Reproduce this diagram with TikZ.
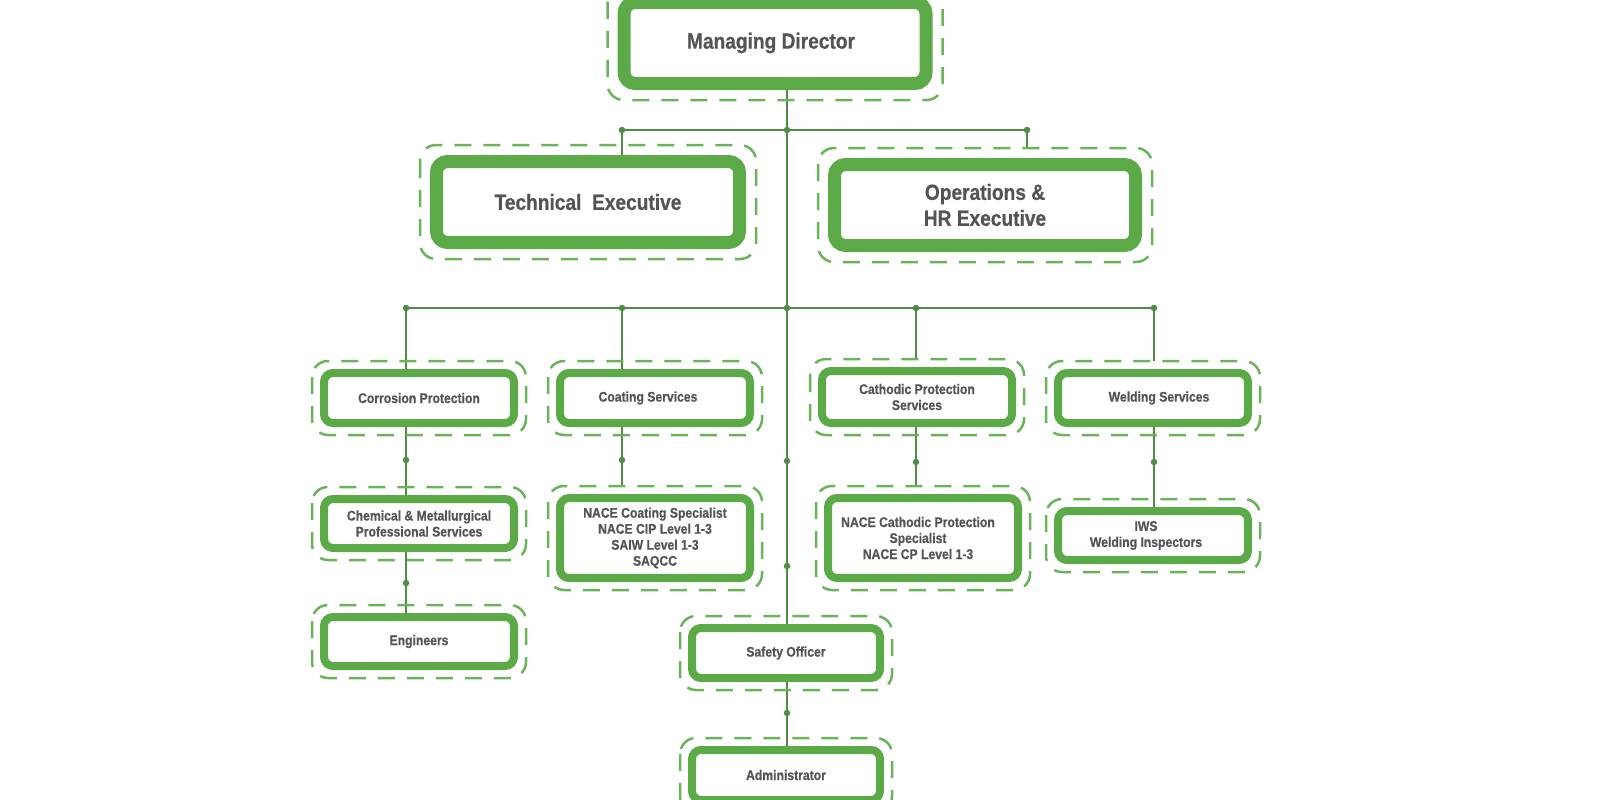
\documentclass[tikz,border=0pt]{standalone}
\usepackage{fontspec}
\setmainfont{Liberation Sans}[FakeStretch=0.87, BoldFeatures={FakeBold=0.5}]
\usetikzlibrary{calc,backgrounds}
\definecolor{boxgreen}{HTML}{5BAA47}
\definecolor{linegreen}{HTML}{4F8D46}
\definecolor{dashgreen}{HTML}{6AB35A}
\definecolor{txt}{HTML}{545456}
\tikzset{
 bigbox/.style={draw=boxgreen, line width=13pt, rounded corners=11pt, fill=white, inner sep=0pt, align=center, text=txt, font=\fontsize{22}{26}\selectfont\bfseries},
 smallbox/.style={draw=boxgreen, line width=8pt, rounded corners=9pt, fill=white, inner sep=0pt, align=center, text=txt, font=\fontsize{14}{16}\selectfont\bfseries, minimum width=190pt},
 conn/.style={draw=linegreen, line width=2.8pt},
 jdot/.style={circle, fill=linegreen, inner sep=0pt, minimum size=6.5pt},
 dashout/.style={draw=dashgreen, line width=2.5pt, dash pattern=on 17pt off 12pt, rounded corners=16pt},
}
\begin{document}
\begin{tikzpicture}[x=1pt,y=-1pt]
\useasboundingbox (0,0) rectangle (1600,800);

% boxes
\node[bigbox, minimum width=302pt, minimum height=81pt] (md) at (775,43) {\hspace*{-8pt}Managing Director};
\node[bigbox, minimum width=303pt, minimum height=81pt] (tech) at (588,202) {Technical\ \ Executive};
\node[bigbox, minimum width=301pt, minimum height=81pt] (ops) at (985,205) {Operations \&\\HR Executive};

\node[smallbox, minimum height=50pt] (corr) at (419,398) {Corrosion Protection};
\node[smallbox, minimum height=50pt] (coat) at (655,398) {\hspace*{-14pt}Coating Services};
\node[smallbox, minimum height=52pt] (cath) at (917,397) {Cathodic Protection\\Services};
\node[smallbox, minimum height=50pt] (weld) at (1153,398) {\hspace*{12pt}Welding Services};

\node[smallbox, minimum height=49pt] (chem) at (419,523.5) {Chemical \& Metallurgical\\Professional Services};
\node[smallbox, minimum height=80pt] (nacec) at (655,538) {NACE Coating Specialist\\NACE CIP Level 1-3\\SAIW Level 1-3\\SAQCC};
\node[smallbox, minimum height=80pt] (nacecp) at (923,538) {\hspace*{-10pt}NACE Cathodic Protection\\\hspace*{-10pt}Specialist\\\hspace*{-10pt}NACE CP Level 1-3};
\node[smallbox, minimum height=49pt] (iws) at (1153,535.5) {\hspace*{-14pt}IWS\\\hspace*{-14pt}Welding Inspectors};

\node[smallbox, minimum height=49pt] (eng) at (419,641.5) {Engineers};
\node[smallbox, minimum width=188pt, minimum height=50pt] (safety) at (786,653) {Safety Officer};
\node[smallbox, minimum width=188pt, minimum height=50pt] (admin) at (786,775) {Administrator};

% dashed outlines
\foreach \n in {md,tech,ops}
  \draw[dashout] ([shift={(-10,-10)}]\n.north west) rectangle ([shift={(10,10)}]\n.south east);
\foreach \n in {corr,coat,cath,weld,chem,nacec,nacecp,iws,eng,safety,admin}
  \draw[dashout] ([shift={(-8,-8)}]\n.north west) rectangle ([shift={(8,8)}]\n.south east);

% junctions
\coordinate (t1) at (622,130);
\coordinate (t0) at (787,130);
\coordinate (t2) at (1027,130);
\coordinate (b1) at (406,308);
\coordinate (b2) at (622,308);
\coordinate (b0) at (787,308);
\coordinate (b4) at (916,308);
\coordinate (b5) at (1154,308);

\begin{scope}[on background layer]
\fill[white] (0,0) rectangle (1600,800);
\draw[conn] (md.south -| t0) -- (safety.north -| t0);
\draw[conn] (t1) -- (t2);
\draw[conn] (t1) -- (t1 |- tech.north);
\draw[conn] (t2) -- ($(t2 |- ops.north)+(0,-9)$);
\draw[conn] (b1) -- (b5);
\draw[conn] (b1) -- (b1 |- corr.north);
\draw[conn] (b2) -- (b2 |- coat.north);
\draw[conn] (b4) -- ($(b4 |- cath.north)+(0,-8)$);
\draw[conn] (b5) -- ($(b5 |- weld.north)+(0,-8)$);
\draw[conn] (b1 |- corr.south) -- (b1 |- chem.north);
\draw[conn] (b2 |- coat.south) -- ($(b2 |- nacec.north)+(0,-8)$);
\draw[conn] (b4 |- cath.south) -- ($(b4 |- nacecp.north)+(0,-8)$);
\draw[conn] (b5 |- weld.south) -- (b5 |- iws.north);
\draw[conn] (b1 |- chem.south) -- (b1 |- eng.north);
\draw[conn] (t0 |- safety.south) -- (t0 |- admin.north);
\end{scope}

% dots
\node[jdot] (dt1) at (t1) {};
\node[jdot] (dt0) at (t0) {};
\node[jdot] (dt2) at (t2) {};
\node[jdot] (db1) at (b1) {};
\node[jdot] (db2) at (b2) {};
\node[jdot] (db0) at (b0) {};
\node[jdot] (db4) at (b4) {};
\node[jdot] (db5) at (b5) {};
\node[jdot] (dc1) at (406,460) {};
\node[jdot] (dc2) at (622,460) {};
\node[jdot] (dc4) at (916,462) {};
\node[jdot] (dc5) at (1154,462) {};
\node[jdot] (dce) at (406,583) {};
\node[jdot] (ds1) at (787,461) {};
\node[jdot] (ds2) at (787,566) {};
\node[jdot] (ds3) at (787,713) {};
\end{tikzpicture}
\end{document}
